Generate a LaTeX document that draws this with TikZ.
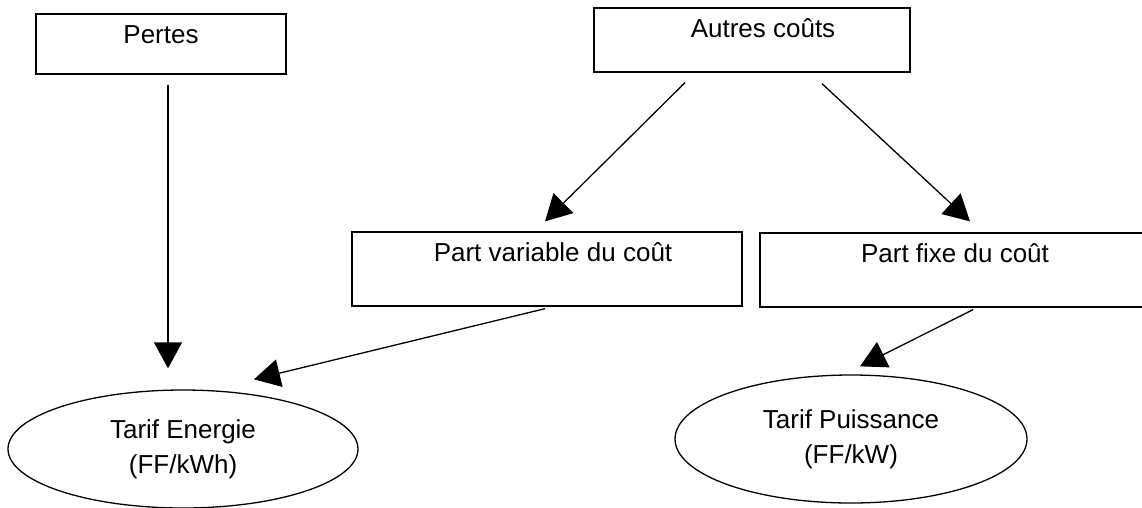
\documentclass[tikz,border=0pt]{standalone}
\usepackage{fontspec}
\setmainfont{Liberation Sans}
\usetikzlibrary{arrows.meta,shapes.geometric}

\begin{document}
\begin{tikzpicture}[x=1pt, y=-1pt,
    costbox/.style={draw, rectangle, line width=1.3pt, inner sep=0pt, text height=29pt},
    tarif/.style={draw, ellipse, line width=1.3pt, inner sep=0pt, align=center},
    arr/.style={line width=1.3pt, -{Triangle[length=26pt, width=28pt]}},
    font=\fontsize{26}{35}\selectfont]
\useasboundingbox (0,0) rectangle (1142,507);

% Boxes
\node[costbox, minimum width=250pt, text depth=31pt] (pertes) at (161,44) {Pertes};
\node[costbox, minimum width=316pt, text depth=35pt] (autres) at (752,40) {\hspace*{22pt}Autres coûts};
\node[costbox, minimum width=390pt, text depth=45pt] (partvar) at (547,269) {\hspace*{12pt}Part variable du coût};
\node[costbox, minimum width=390pt, text depth=45pt] (partfixe) at (955,270) {Part fixe du coût};

% Tariffs
\node[tarif, minimum width=350pt, minimum height=118pt] (energie) at (183,449) {Tarif Energie\\(FF/kWh)};
\node[tarif, minimum width=352pt, minimum height=128pt] (puissance) at (851,439) {Tarif Puissance\\(FF/kW)};

% Arrows
\draw[arr] ([xshift=7pt, yshift=-10pt]pertes.south) -- ([xshift=-15pt, yshift=21pt]energie.north);
\draw[arr] ([xshift=-67pt, yshift=-10pt]autres.south) -- ([xshift=-2pt, yshift=10pt]partvar.north);
\draw[arr] ([xshift=70pt, yshift=-11pt]autres.south) -- ([xshift=15pt, yshift=11pt]partfixe.north);
\draw[arr] ([xshift=-2pt, yshift=-2pt]partvar.south) -- ([xshift=71pt, yshift=10pt]energie.north);
\draw[arr] ([xshift=18pt, yshift=-2pt]partfixe.south) -- ([xshift=9pt, yshift=8pt]puissance.north);
\end{tikzpicture}
\end{document}
